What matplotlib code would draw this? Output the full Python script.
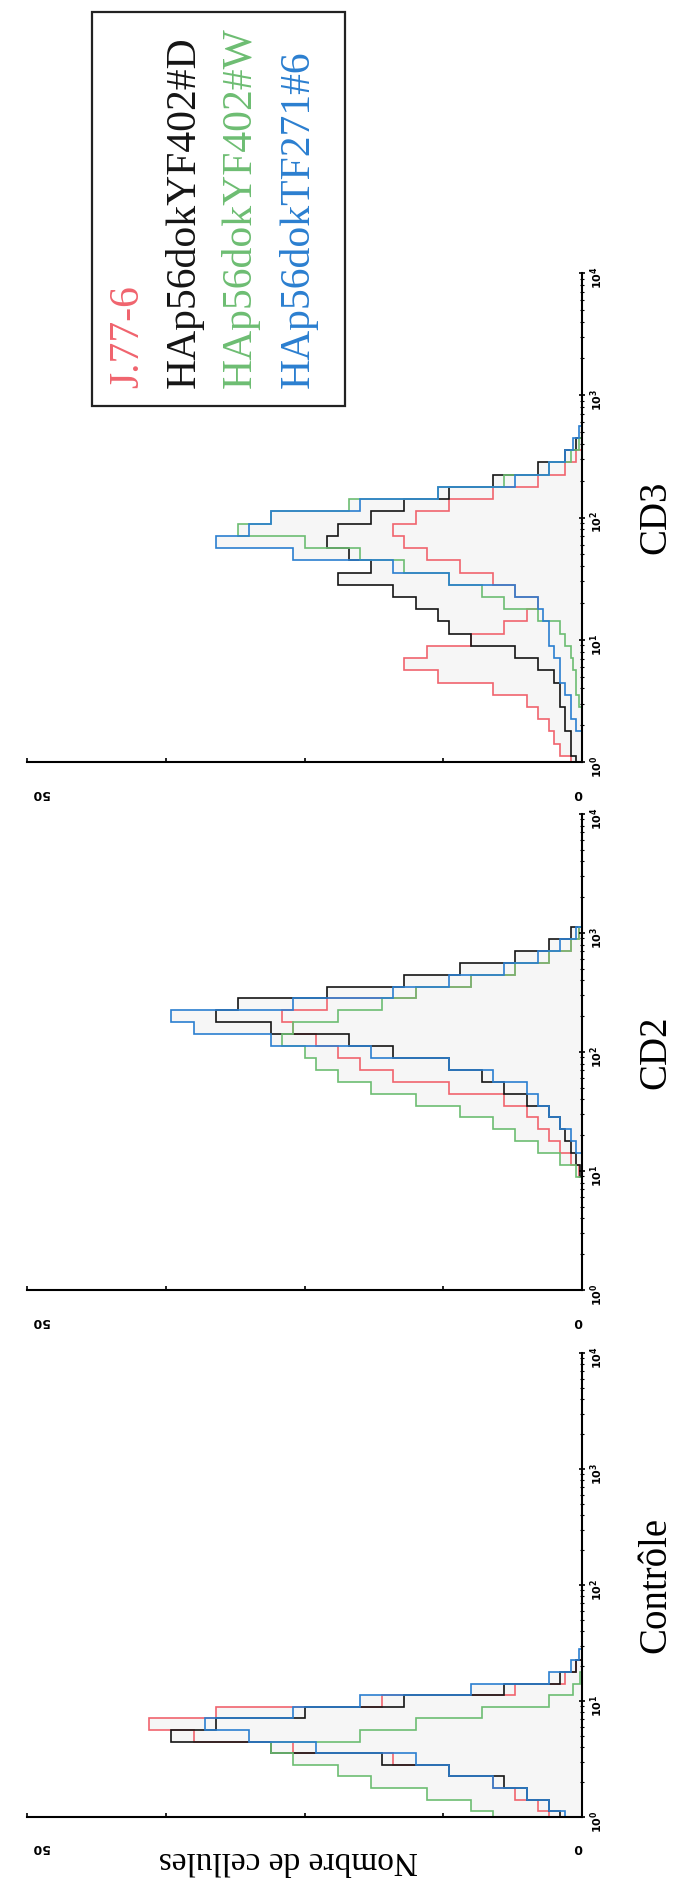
import matplotlib
matplotlib.use("Agg")
import matplotlib.pyplot as plt
import numpy as np
from matplotlib.patches import Rectangle
from matplotlib.ticker import LogLocator, NullFormatter

# canaux de fluorescence (log10), pas de 0.1 decade, de 10^0 a 10^3
log_bins = np.round(np.arange(0.0, 3.01, 0.1), 1)

series_names = ['J.77-6', 'HAp56dokYF402#D', 'HAp56dokYF402#W', 'HAp56dokTF271#6']
series_colors = ['#f0646e', '#151515', '#6dbd72', '#2b7fd0']

# Controle
ctrl_j77 = [3, 4, 6, 8, 12, 17, 26, 35, 39, 33, 18, 6, 1.5, 0.5, 0, 0, 0, 0, 0, 0, 0, 0, 0, 0, 0, 0, 0, 0, 0, 0, 0]
ctrl_yfd = [2, 3, 5, 7, 12, 18, 28, 37, 33, 25, 16, 7, 2, 0.5, 0, 0, 0, 0, 0, 0, 0, 0, 0, 0, 0, 0, 0, 0, 0, 0, 0]
ctrl_yfw = [8, 10, 14, 19, 22, 26, 28, 20, 15, 9, 3, 0.8, 0.2, 0, 0, 0, 0, 0, 0, 0, 0, 0, 0, 0, 0, 0, 0, 0, 0, 0, 0]
ctrl_tf = [1.5, 3, 5, 8, 12, 15, 24, 30, 34, 26, 20, 10, 3, 1, 0.3, 0, 0, 0, 0, 0, 0, 0, 0, 0, 0, 0, 0, 0, 0, 0, 0]

# CD2
cd2_j77 = [0, 0, 0, 0, 0, 0, 0, 0, 0, 0, 0.3, 1, 2, 3, 4, 5, 7, 12, 17, 20, 22, 24, 26, 27, 23, 15, 10, 6, 3, 1, 0.3]
cd2_yfd = [0, 0, 0, 0, 0, 0, 0, 0, 0, 0, 0.2, 0.5, 1, 1.5, 2, 3, 5, 7, 9, 12, 17, 21, 28, 33, 31, 23, 16, 11, 6, 3, 1]
cd2_yfw = [0, 0, 0, 0, 0, 0, 0, 0, 0, 0, 0.5, 2, 4, 6, 8, 11, 15, 19, 22, 24, 25, 27, 26, 22, 18, 15, 10, 6, 3, 1, 0.3]
cd2_tf = [0, 0, 0, 0, 0, 0, 0, 0, 0, 0, 0, 0, 0.5, 1, 2, 3, 4, 5, 8, 12, 19, 28, 35, 37, 26, 17, 12, 7, 4, 2, 0.5]

# CD3
cd3_j77 = [1, 2, 2.5, 3, 4, 5, 8, 13, 16, 14, 10, 7, 5, 4, 6, 8, 11, 14, 16, 17, 15, 12, 8, 4, 1.5, 0.5, 0, 0, 0, 0, 0]
cd3_yfd = [0.5, 1, 1, 1.5, 1.5, 2, 2, 2.5, 4, 6, 10, 12, 13, 15, 17, 22, 19, 21, 23, 22, 19, 16, 12, 8, 4, 1.5, 0.5, 0, 0, 0, 0]
cd3_yfw = [0, 0, 0, 0, 0, 0.3, 0.5, 0.5, 0.8, 1, 1.5, 2, 4, 7, 9, 12, 16, 20, 25, 31, 28, 21, 13, 7, 3, 1, 0.3, 0, 0, 0, 0]
cd3_tf = [0, 0, 0, 0.5, 1, 1, 1.5, 2, 2, 2.5, 3, 3, 3.5, 4, 6, 12, 17, 26, 33, 30, 28, 20, 13, 6, 3, 1.5, 0.8, 0.3, 0, 0, 0]

panel_titles = ['Contrôle', 'CD2', 'CD3']
panel_data = [[ctrl_j77, ctrl_yfd, ctrl_yfw, ctrl_tf],
              [cd2_j77, cd2_yfd, cd2_yfw, cd2_tf],
              [cd3_j77, cd3_yfd, cd3_yfw, cd3_tf]]
# bas et haut de chaque panneau (pixels)
panel_px = [(1817, 1353), (1290, 814), (762, 273)]

count_ticks = [0, 12.5, 25, 37.5, 50]
decade_ticks = [1, 10, 100, 1000, 10000]
decade_labels = [r'$\mathbf{10^{0}}$', r'$\mathbf{10^{1}}$', r'$\mathbf{10^{2}}$',
                 r'$\mathbf{10^{3}}$', r'$\mathbf{10^{4}}$']

W, H = 687, 1887
serif = ['Liberation Serif', 'DejaVu Serif']

fig = plt.figure(figsize=(W / 100, H / 100), dpi=100)

edges = 10 ** np.append(log_bins - 0.05, log_bins[-1] + 0.05)

for title, data, (pb, pt) in zip(panel_titles, panel_data, panel_px):
    ax = fig.add_axes([27 / W, 1 - pb / H, (582 - 27) / W, (pb - pt) / H])
    # leger fond gris sous les courbes
    ax.stairs(np.max(data, axis=0), edges, orientation='horizontal', fill=True,
              color='#f6f6f6', lw=0)
    for vals, col in zip(data, series_colors):
        ax.stairs(vals, edges, orientation='horizontal', color=col, lw=1.2)
    ax.set_yscale('log')
    ax.set_ylim(1, 1e4)
    ax.set_xlim(50, 0)
    ax.spines['left'].set_visible(False)
    ax.spines['top'].set_visible(False)
    ax.spines['right'].set_linewidth(1.5)
    ax.spines['bottom'].set_linewidth(1.5)
    ax.yaxis.tick_right()
    ax.set_yticks(decade_ticks)
    ax.set_yticklabels(decade_labels)
    ax.yaxis.set_minor_locator(LogLocator(base=10, subs=np.arange(2, 10)))
    ax.yaxis.set_minor_formatter(NullFormatter())
    ax.tick_params(axis='y', which='major', length=5, width=1.2, direction='inout',
                   pad=2, labelsize=8, labelrotation=90)
    ax.tick_params(axis='y', which='minor', length=3, width=0.8, direction='inout')
    ax.set_xticks(count_ticks)
    ax.set_xticklabels([])
    ax.tick_params(axis='x', length=3, width=1.2, direction='in')
    ax.text(0.4, 0.62, '0', rotation=180, ha='center', va='top', fontsize=9,
            fontweight='bold')
    ax.text(48.8, 0.62, '50', rotation=180, ha='center', va='top', fontsize=9,
            fontweight='bold')
    fig.text(656 / W, 1 - (pb + pt) / 2 / H, title, rotation=90, ha='center', va='center',
             fontsize=28, family=serif)

fig.text(288 / W, 1 - 1860 / H, 'Nombre de cellules', rotation=180, ha='center',
         va='center', fontsize=24, family=serif)

# legende
box_l, box_r, box_t, box_b = 92, 345, 12, 406
fig.patches.append(Rectangle((box_l / W, 1 - box_b / H), (box_r - box_l) / W,
                             (box_b - box_t) / H, transform=fig.transFigure,
                             fill=False, lw=1.6, edgecolor='#222222'))
leg_x = [128, 184, 240, 298]
for name, col, lx in zip(series_names, series_colors, leg_x):
    fig.text(lx / W, 1 - 388 / H, name, rotation=90, ha='center', va='bottom',
             color=col, fontsize=30, family=serif)

fig.savefig('out.png', dpi=100, facecolor='white')
